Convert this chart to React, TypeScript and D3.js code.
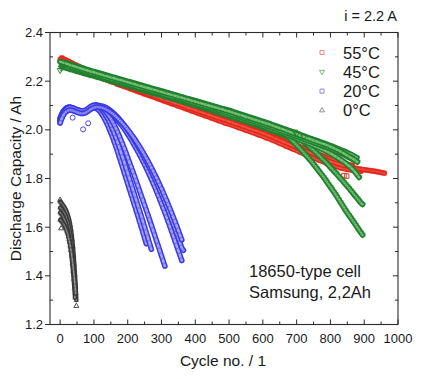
import React from 'react';
import * as d3 from 'd3';

// ---------- tick labels ----------
const xTicks = [0, 100, 200, 300, 400, 500, 600, 700, 800, 900, 1000];
const yTicks = [1.2, 1.4, 1.6, 1.8, 2.0, 2.2, 2.4];
const legendLabels = ['55°C', '45°C', '20°C', '0°C'];

// ---------- 55°C (red squares), capacity values; cycle = start + i*step ----------
const red1 = [2.290, 2.277, 2.263, 2.249, 2.237, 2.226, 2.216, 2.206, 2.196, 2.186, 2.176, 2.166, 2.157, 2.147, 2.138, 2.128, 2.119, 2.109, 2.100, 2.090, 2.081, 2.071, 2.062, 2.052, 2.043, 2.034, 2.024, 2.015, 2.005, 1.996, 1.986, 1.975, 1.963, 1.951, 1.939, 1.927, 1.916, 1.905, 1.893, 1.882, 1.870, 1.861, 1.853];
const red1Tail = [1.851, 1.849, 1.847, 1.845, 1.843, 1.842, 1.840, 1.839, 1.838, 1.837, 1.836, 1.835, 1.834, 1.833, 1.832, 1.831, 1.830, 1.829, 1.827, 1.826, 1.825, 1.823, 1.822];
const red2 = [2.296, 2.282, 2.268, 2.254, 2.241, 2.229, 2.219, 2.209, 2.199, 2.189, 2.179, 2.169, 2.160, 2.150, 2.141, 2.131, 2.122, 2.112, 2.103, 2.093, 2.084, 2.075, 2.065, 2.056, 2.046, 2.037, 2.028, 2.018, 2.009, 1.999, 1.989, 1.979, 1.967, 1.956, 1.945, 1.934, 1.923, 1.912, 1.900, 1.889, 1.879, 1.869, 1.861, 1.855];
const red3 = [2.284, 2.271, 2.257, 2.244, 2.232, 2.220, 2.209, 2.198, 2.187, 2.177, 2.167, 2.157, 2.147, 2.137, 2.127, 2.117, 2.107, 2.097, 2.087, 2.077, 2.067, 2.057, 2.047, 2.037, 2.027, 2.018, 2.008, 1.998, 1.988, 1.978, 1.967, 1.956, 1.944, 1.932, 1.920, 1.908, 1.896, 1.884, 1.873, 1.862, 1.852, 1.843, 1.837, 1.832, 1.829];
const red4 = [2.287, 2.274, 2.261, 2.248, 2.236, 2.225, 2.215, 2.205, 2.195, 2.185, 2.175, 2.165, 2.156, 2.146, 2.137, 2.127, 2.118, 2.108, 2.099, 2.089, 2.080, 2.070, 2.061, 2.051, 2.042, 2.032, 2.023, 2.013, 2.004, 1.994, 1.983, 1.972, 1.961, 1.949, 1.937, 1.925, 1.914, 1.902, 1.891, 1.880, 1.868, 1.858, 1.849];
const redOutCycles = [840, 848];
const redOutValues = [1.812, 1.810];

// ---------- 45°C (green down triangles) ----------
const green1 = [2.280, 2.271, 2.262, 2.253, 2.244, 2.236, 2.228, 2.220, 2.212, 2.204, 2.196, 2.188, 2.180, 2.172, 2.164, 2.156, 2.148, 2.140, 2.132, 2.124, 2.116, 2.108, 2.100, 2.092, 2.084, 2.076, 2.067, 2.058, 2.049, 2.040, 2.031, 2.022, 2.012, 2.002, 1.992, 1.982, 1.972, 1.962, 1.952, 1.942, 1.931, 1.918, 1.903, 1.886, 1.868];
const green2 = [2.268, 2.259, 2.250, 2.241, 2.232, 2.224, 2.216, 2.208, 2.200, 2.192, 2.184, 2.176, 2.168, 2.160, 2.152, 2.144, 2.136, 2.128, 2.120, 2.112, 2.104, 2.096, 2.088, 2.080, 2.072, 2.063, 2.054, 2.045, 2.036, 2.027, 2.018, 2.008, 1.998, 1.988, 1.978, 1.968, 1.958, 1.948, 1.938, 1.928, 1.917, 1.905, 1.891, 1.876];
const green3 = [2.262, 2.254, 2.246, 2.238, 2.230, 2.222, 2.214, 2.206, 2.198, 2.190, 2.182, 2.174, 2.166, 2.158, 2.150, 2.142, 2.134, 2.126, 2.118, 2.110, 2.102, 2.093, 2.084, 2.075, 2.066, 2.057, 2.048, 2.039, 2.030, 2.021, 2.012, 2.002, 1.992, 1.982, 1.972, 1.961, 1.950, 1.939, 1.927, 1.914, 1.899, 1.882, 1.863, 1.839, 1.805];
const green4 = [2.272, 2.263, 2.254, 2.245, 2.237, 2.229, 2.221, 2.213, 2.205, 2.197, 2.189, 2.181, 2.173, 2.165, 2.157, 2.149, 2.141, 2.133, 2.125, 2.117, 2.109, 2.100, 2.091, 2.082, 2.073, 2.064, 2.055, 2.046, 2.037, 2.028, 2.018, 2.008, 1.998, 1.988, 1.977];
const green4Tail = [1.974, 1.969, 1.963, 1.958, 1.952, 1.946, 1.940, 1.934, 1.928, 1.922, 1.916, 1.909, 1.903, 1.896, 1.889, 1.882, 1.875, 1.868, 1.861, 1.854, 1.846, 1.839, 1.831, 1.824, 1.816, 1.808, 1.800, 1.792, 1.784, 1.776, 1.768, 1.760, 1.751, 1.743, 1.734, 1.726, 1.717, 1.709, 1.700, 1.694];
const green5 = [2.258, 2.250, 2.242, 2.234, 2.226, 2.218, 2.210, 2.202, 2.194, 2.186, 2.178, 2.170, 2.162, 2.154, 2.146, 2.138, 2.130, 2.122, 2.114, 2.106, 2.098, 2.089, 2.080, 2.071, 2.062, 2.053, 2.044, 2.035, 2.026, 2.016, 2.006, 1.996, 1.986, 1.975];
const green5Tail = [1.970, 1.964, 1.958, 1.951, 1.944, 1.937, 1.930, 1.923, 1.916, 1.908, 1.900, 1.892, 1.884, 1.876, 1.868, 1.859, 1.850, 1.841, 1.832, 1.823, 1.814, 1.805, 1.795, 1.785, 1.775, 1.765, 1.755, 1.745, 1.735, 1.724, 1.713, 1.702, 1.691, 1.680, 1.669, 1.659, 1.649, 1.639, 1.629, 1.619, 1.609, 1.598, 1.588, 1.578, 1.568];
const green6 = [2.275, 2.266, 2.257, 2.248, 2.240, 2.232, 2.224, 2.216, 2.208, 2.200, 2.192, 2.184, 2.176, 2.168, 2.160, 2.152, 2.144, 2.136, 2.128, 2.120, 2.112, 2.104, 2.096, 2.088, 2.080, 2.071, 2.062, 2.053, 2.044, 2.035, 2.026, 2.016, 2.006, 1.996, 1.986, 1.976, 1.966, 1.956, 1.946, 1.936, 1.925, 1.913, 1.900, 1.885];
const greenOutCycles = [0, 3, 6, 695, 700, 722];
const greenOutValues = [2.245, 2.255, 2.262, 1.992, 1.985, 1.972];

// ---------- 20°C (blue circles), step 5 cycles ----------
const blue1 = [2.030, 2.050, 2.062, 2.072, 2.078, 2.082, 2.083, 2.082, 2.080, 2.077, 2.075, 2.073, 2.071, 2.070, 2.071, 2.073, 2.077, 2.082, 2.087, 2.090, 2.091, 2.089, 2.085, 2.079, 2.071, 2.061, 2.049, 2.036, 2.021, 2.005, 1.988, 1.970, 1.951, 1.931, 1.910, 1.889, 1.867, 1.845, 1.823, 1.801, 1.779, 1.757, 1.735, 1.713, 1.691, 1.669, 1.647, 1.624, 1.601, 1.578, 1.555, 1.532];
const blue3 = [2.045, 2.062, 2.075, 2.084, 2.090, 2.092, 2.093, 2.091, 2.088, 2.085, 2.082, 2.080, 2.078, 2.077, 2.077, 2.079, 2.083, 2.088, 2.093, 2.097, 2.099, 2.099, 2.097, 2.093, 2.087, 2.080, 2.071, 2.060, 2.048, 2.034, 2.019, 2.003, 1.986, 1.968, 1.949, 1.929, 1.908, 1.887, 1.866, 1.844, 1.822, 1.800, 1.778, 1.756, 1.734, 1.712, 1.690, 1.668, 1.646, 1.624, 1.601, 1.578, 1.555, 1.532, 1.509];
const blue2 = [2.040, 2.058, 2.071, 2.080, 2.086, 2.089, 2.090, 2.089, 2.087, 2.084, 2.081, 2.079, 2.077, 2.076, 2.076, 2.078, 2.082, 2.087, 2.092, 2.096, 2.099, 2.100, 2.100, 2.098, 2.095, 2.090, 2.083, 2.075, 2.066, 2.056, 2.045, 2.033, 2.020, 2.006, 1.991, 1.975, 1.958, 1.941, 1.923, 1.905, 1.886, 1.867, 1.848, 1.829, 1.810, 1.790, 1.770, 1.750, 1.730, 1.710, 1.690, 1.670, 1.650, 1.629, 1.608, 1.587, 1.566, 1.545, 1.524, 1.503, 1.482, 1.461, 1.440];
const blue4 = [2.050, 2.066, 2.078, 2.086, 2.091, 2.093, 2.092, 2.090, 2.087, 2.083, 2.080, 2.078, 2.076, 2.075, 2.076, 2.078, 2.082, 2.087, 2.092, 2.096, 2.099, 2.100, 2.100, 2.098, 2.096, 2.094, 2.091, 2.087, 2.082, 2.076, 2.070, 2.063, 2.056, 2.048, 2.040, 2.031, 2.022, 2.013, 2.003, 1.993, 1.982, 1.971, 1.960, 1.948, 1.936, 1.924, 1.911, 1.898, 1.885, 1.871, 1.857, 1.843, 1.828, 1.813, 1.797, 1.781, 1.765, 1.748, 1.731, 1.714, 1.696, 1.678, 1.660, 1.641, 1.622, 1.603, 1.583, 1.563, 1.543, 1.523, 1.503, 1.483, 1.463];
const blue5 = [2.038, 2.056, 2.070, 2.080, 2.087, 2.091, 2.092, 2.091, 2.089, 2.086, 2.083, 2.081, 2.079, 2.078, 2.079, 2.081, 2.085, 2.090, 2.095, 2.099, 2.101, 2.102, 2.101, 2.100, 2.098, 2.097, 2.095, 2.092, 2.088, 2.083, 2.078, 2.072, 2.066, 2.059, 2.052, 2.044, 2.036, 2.027, 2.018, 2.009, 1.999, 1.989, 1.979, 1.968, 1.957, 1.946, 1.934, 1.922, 1.910, 1.897, 1.884, 1.871, 1.857, 1.843, 1.829, 1.814, 1.799, 1.784, 1.768, 1.752, 1.736, 1.719, 1.702, 1.685, 1.667, 1.649, 1.631, 1.612, 1.593, 1.574, 1.555, 1.535, 1.515, 1.505];
const blue6 = [2.028, 2.047, 2.061, 2.071, 2.077, 2.080, 2.081, 2.080, 2.078, 2.075, 2.072, 2.070, 2.068, 2.067, 2.068, 2.070, 2.074, 2.079, 2.084, 2.088, 2.091, 2.093, 2.094, 2.093, 2.092, 2.090, 2.088, 2.085, 2.081, 2.077, 2.072, 2.067, 2.061, 2.055, 2.048, 2.041, 2.034, 2.026, 2.018, 2.010, 2.001, 1.992, 1.983, 1.973, 1.963, 1.953, 1.942, 1.931, 1.920, 1.908, 1.896, 1.884, 1.871, 1.858, 1.845, 1.831, 1.817, 1.803, 1.788, 1.773, 1.758, 1.742, 1.726, 1.710, 1.693, 1.676, 1.659, 1.641, 1.623, 1.605, 1.586, 1.567, 1.548];
const blueOutCycles = [37, 68, 83];
const blueOutValues = [2.050, 2.002, 2.027];

// ---------- 0°C (black up triangles), step 2 cycles ----------
const black1 = [1.705, 1.702, 1.699, 1.696, 1.692, 1.688, 1.684, 1.679, 1.674, 1.668, 1.661, 1.653, 1.644, 1.634, 1.622, 1.608, 1.591, 1.571, 1.547, 1.519, 1.486, 1.448, 1.404, 1.355, 1.300];
const black2 = [1.680, 1.678, 1.675, 1.672, 1.668, 1.664, 1.659, 1.654, 1.648, 1.641, 1.633, 1.624, 1.614, 1.602, 1.589, 1.574, 1.556, 1.535, 1.511, 1.483, 1.451, 1.415, 1.375, 1.331];
const black3 = [1.660, 1.657, 1.654, 1.650, 1.645, 1.640, 1.634, 1.627, 1.620, 1.611, 1.601, 1.590, 1.577, 1.562, 1.545, 1.526, 1.504, 1.479, 1.451, 1.420, 1.386, 1.349, 1.310];
const black4 = [1.630, 1.628, 1.625, 1.622, 1.618, 1.614, 1.609, 1.603, 1.597, 1.590, 1.582, 1.573, 1.563, 1.551, 1.538, 1.523, 1.506, 1.487, 1.466, 1.443, 1.417, 1.389, 1.359, 1.327];
const blackOutCycles = [0, 3, 48];
const blackOutValues = [1.712, 1.595, 1.276];

type Seg = { start: number; step: number; values: number[] };
type Pt = [number, number];

const segPts = (segs: Seg[]): Pt[] =>
  segs.flatMap((c) => c.values.map((v, i) => [c.start + i * c.step, v] as Pt));
const pairPts = (cs: number[], vs: number[]): Pt[] => cs.map((c, i) => [c, vs[i]] as Pt);

const W = 431;
const H = 379;
const x = d3.scaleLinear().domain([-30, 1000]).range([50, 398]);
const y = d3.scaleLinear().domain([1.2, 2.4]).range([324.5, 32.5]);
const line = d3
  .line<Pt>()
  .x((d) => x(d[0]))
  .y((d) => y(d[1]))
  .curve(d3.curveMonotoneX);

const sq = (cx: number, cy: number, s: number) =>
  `M${cx - s / 2},${cy - s / 2}h${s}v${s}h${-s}Z`;
const triDown = (cx: number, cy: number, s: number) => {
  const h = s * 0.866;
  return `M${cx - s / 2},${cy - h / 3}L${cx + s / 2},${cy - h / 3}L${cx},${cy + (2 * h) / 3}Z`;
};
const triUp = (cx: number, cy: number, s: number) => {
  const h = s * 0.866;
  return `M${cx - s / 2},${cy + h / 3}L${cx + s / 2},${cy + h / 3}L${cx},${cy - (2 * h) / 3}Z`;
};
const circ = (cx: number, cy: number, s: number) => {
  const r = s / 2;
  return `M${cx - r},${cy}a${r},${r} 0 1,0 ${2 * r},0a${r},${r} 0 1,0 ${-2 * r},0Z`;
};

type Shape = (cx: number, cy: number, s: number) => string;
const markers = (pts: Pt[], shape: Shape, s: number) =>
  pts.map(([c, v]) => shape(x(c), y(v), s)).join('');

type Style = { outer: string; inner: string; ow: number; iw: number; shape: Shape; s: number };

const Group = ({ cells, outliers, st }: { cells: Seg[][]; outliers: Pt[]; st: Style }) => (
  <g>
    {cells.map((segs, i) => {
      const pts = segPts(segs);
      const d = line(pts) || '';
      return (
        <g key={i}>
          <path d={d} fill="none" stroke={st.outer} strokeWidth={st.ow} strokeLinecap="round" strokeLinejoin="round" />
          <path d={d} fill="none" stroke={st.inner} strokeWidth={st.iw} strokeLinecap="round" strokeLinejoin="round" />
          <path d={markers(pts, st.shape, st.s)} fill="none" stroke={st.outer} strokeWidth={0.5} opacity={0.7} />
        </g>
      );
    })}
    <path d={markers(outliers, st.shape, st.s)} fill="none" stroke={st.outer} strokeWidth={0.9} />
  </g>
);

export default function App() {
  const redCells: Seg[][] = [
    [{ start: 10, step: 20, values: red3 }],
    [{ start: 15, step: 20, values: red4 }],
    [{ start: 5, step: 20, values: red2 }],
    [
      { start: 0, step: 20, values: red1 },
      { start: 850, step: 5, values: red1Tail },
    ],
  ];
  const greenCells: Seg[][] = [
    [
      { start: 8, step: 20, values: green5 },
      { start: 675, step: 5, values: green5Tail },
    ],
    [
      { start: 15, step: 20, values: green4 },
      { start: 700, step: 5, values: green4Tail },
    ],
    [{ start: 5, step: 20, values: green3 }],
    [{ start: 10, step: 20, values: green2 }],
    [{ start: 18, step: 20, values: green6 }],
    [{ start: 0, step: 20, values: green1 }],
  ];
  const blueCells: Seg[][] = [blue1, blue3, blue2, blue4, blue5, blue6].map((v) => [
    { start: 0, step: 5, values: v },
  ]);
  const blackCells: Seg[][] = [black1, black2, black3, black4].map((v) => [
    { start: 0, step: 2, values: v },
  ]);

  const [x0, x1] = x.range();
  const [yb, yt] = y.range();
  const xMinor = d3.range(50, 1000, 100);
  const yMinor = [1.3, 1.5, 1.7, 1.9, 2.1, 2.3];
  const axisColor = '#2a2a2a';

  const legendStyles = [
    { shape: sq, s: 4, stroke: '#e86a60' },
    { shape: triDown, s: 5, stroke: '#5aa85e' },
    { shape: sq, s: 4, stroke: '#6a6ae8' },
    { shape: triUp, s: 5, stroke: '#777' },
  ];

  return (
    <svg
      width={W}
      height={H}
      style={{ position: 'absolute', left: 0, top: 0, background: '#fff' }}
      fontFamily="'Liberation Sans', Arial, Helvetica, sans-serif"
    >
      <rect x={0} y={0} width={W} height={H} fill="#fff" />

      {/* data */}
      <Group
        cells={blueCells}
        outliers={pairPts(blueOutCycles, blueOutValues)}
        st={{ outer: '#3838e4', inner: '#a4a4f6', ow: 5.4, iw: 2.6, shape: circ, s: 5 }}
      />
      <Group
        cells={blackCells}
        outliers={pairPts(blackOutCycles, blackOutValues)}
        st={{ outer: '#3a3a3a', inner: '#9c9c9c', ow: 4.4, iw: 1.6, shape: triUp, s: 5 }}
      />
      <Group
        cells={redCells}
        outliers={pairPts(redOutCycles, redOutValues)}
        st={{ outer: '#e3271c', inner: '#ef5344', ow: 5, iw: 2, shape: sq, s: 4.5 }}
      />
      <Group
        cells={greenCells}
        outliers={pairPts(greenOutCycles, greenOutValues)}
        st={{ outer: '#21802e', inner: '#78c37b', ow: 5.8, iw: 2.4, shape: triDown, s: 6 }}
      />

      {/* frame */}
      <rect x={x0} y={yt} width={x1 - x0} height={yb - yt} fill="none" stroke={axisColor} strokeWidth={1.1} />

      {/* x ticks (bottom + top, inward) */}
      {xTicks.map((t) => (
        <g key={'xt' + t}>
          <line x1={x(t)} x2={x(t)} y1={yb} y2={yb - 5} stroke={axisColor} />
          <line x1={x(t)} x2={x(t)} y1={yt} y2={yt + 5} stroke={axisColor} />
          <text x={x(t)} y={yb + 18} fontSize={13} textAnchor="middle" fill="#1a1a1a">
            {t}
          </text>
        </g>
      ))}
      {xMinor.map((t) => (
        <g key={'xm' + t}>
          <line x1={x(t)} x2={x(t)} y1={yb} y2={yb - 3} stroke={axisColor} />
          <line x1={x(t)} x2={x(t)} y1={yt} y2={yt + 3} stroke={axisColor} />
        </g>
      ))}

      {/* y ticks */}
      {yTicks.map((t) => (
        <g key={'yt' + t}>
          <line x1={x0 - 5} x2={x0} y1={y(t)} y2={y(t)} stroke={axisColor} />
          <line x1={x1} x2={x1 - 5} y1={y(t)} y2={y(t)} stroke={axisColor} />
          <text x={x0 - 7} y={y(t) + 4.5} fontSize={13} textAnchor="end" fill="#1a1a1a">
            {t.toFixed(1)}
          </text>
        </g>
      ))}
      {yMinor.map((t) => (
        <g key={'ym' + t}>
          <line x1={x0} x2={x0 + 3} y1={y(t)} y2={y(t)} stroke={axisColor} />
          <line x1={x1} x2={x1 - 3} y1={y(t)} y2={y(t)} stroke={axisColor} />
        </g>
      ))}

      {/* axis titles */}
      <text x={(x0 + x1) / 2 - 1} y={366} fontSize={15.5} textAnchor="middle" fill="#1a1a1a">
        Cycle no. / 1
      </text>
      <text
        transform={`translate(20.5,${(yt + yb) / 2}) rotate(-90)`}
        fontSize={15.5}
        textAnchor="middle"
        fill="#1a1a1a"
      >
        Discharge Capacity / Ah
      </text>

      {/* top-right label */}
      <text x={397} y={21} fontSize={14.5} textAnchor="end" fill="#1a1a1a">
        i = 2.2 A
      </text>

      {/* legend */}
      {legendLabels.map((lab, i) => {
        const cy = 52.5 + i * 19.3;
        const st = legendStyles[i];
        return (
          <g key={lab}>
            <path d={st.shape(322, cy, st.s)} fill="none" stroke={st.stroke} strokeWidth={0.8} />
            <text x={343} y={cy + 6} fontSize={16.5} fill="#1a1a1a">
              {lab}
            </text>
          </g>
        );
      })}

      {/* annotation */}
      <text x={249} y={277} fontSize={16.5} fill="#1a1a1a">
        18650-type cell
      </text>
      <text x={249} y={297.5} fontSize={16.5} fill="#1a1a1a">
        Samsung, 2,2Ah
      </text>
    </svg>
  );
}
